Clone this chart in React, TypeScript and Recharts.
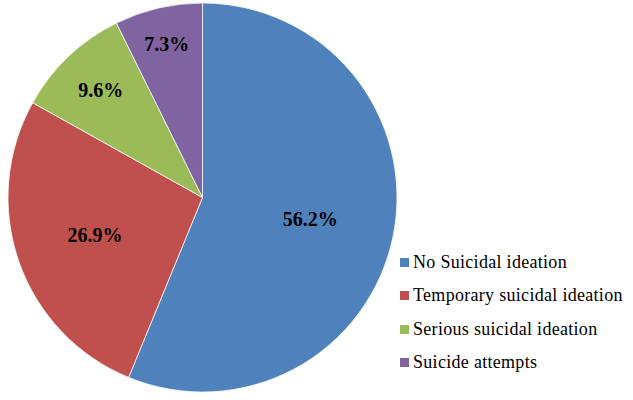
import { Cell, Legend, Pie, PieChart } from "recharts";

const categories = [
  "No Suicidal ideation",
  "Temporary suicidal ideation",
  "Serious suicidal ideation",
  "Suicide attempts",
];
const shares = [56.2, 26.9, 9.6, 7.3];
const colors = ["#4F81BD", "#C0504D", "#9BBB59", "#8064A2"];
// how far out each label sits, as a fraction of the radius (Excel "best fit")
const labelRadius = [0.565, 0.585, 0.76, 0.81];

const data = categories.map((name, i) => ({ name, value: shares[i] }));

const RAD = Math.PI / 180;
const SERIF = "Liberation Serif, Times New Roman, Tinos, DejaVu Serif, serif";

function renderLabel(props: any) {
  const { cx, cy, midAngle, outerRadius, index, value } = props;
  const r = outerRadius * labelRadius[index];
  const x = cx + r * Math.cos(-midAngle * RAD);
  const y = cy + r * Math.sin(-midAngle * RAD);
  return (
    <text
      x={x}
      y={y}
      textAnchor="middle"
      dominantBaseline="central"
      fill="#000"
      style={{ fontFamily: SERIF, fontWeight: "bold", fontSize: 20 }}
    >
      {`${Number(value).toFixed(1)}%`}
    </text>
  );
}

function renderLegend() {
  return (
    <div style={{ fontFamily: SERIF, fontSize: 18, color: "#000", letterSpacing: 0.3 }}>
      {categories.map((c, i) => (
        <div key={c} style={{ display: "flex", alignItems: "center", height: 33.3 }}>
          <span
            style={{
              display: "inline-block",
              width: 9,
              height: 9,
              background: colors[i],
              marginRight: 4,
            }}
          />
          <span>{c}</span>
        </div>
      ))}
    </div>
  );
}

export default function App() {
  return (
    <div style={{ position: "absolute", left: 0, top: 0, width: 633, height: 400, background: "#fff" }}>
      <PieChart width={633} height={400} margin={{ top: 0, right: 0, bottom: 0, left: 0 }}>
        <Pie
          data={data}
          dataKey="value"
          nameKey="name"
          cx={202.5}
          cy={197.5}
          outerRadius={194.5}
          startAngle={90}
          endAngle={-270}
          stroke="#ffffff"
          strokeWidth={0.75}
          label={renderLabel}
          labelLine={false}
          isAnimationActive={false}
        >
          {data.map((d, i) => (
            <Cell key={d.name} fill={colors[i]} />
          ))}
        </Pie>
        <Legend
          content={renderLegend}
          layout="vertical"
          wrapperStyle={{ position: "absolute", left: 400, top: 246, width: 233 }}
        />
      </PieChart>
    </div>
  );
}
